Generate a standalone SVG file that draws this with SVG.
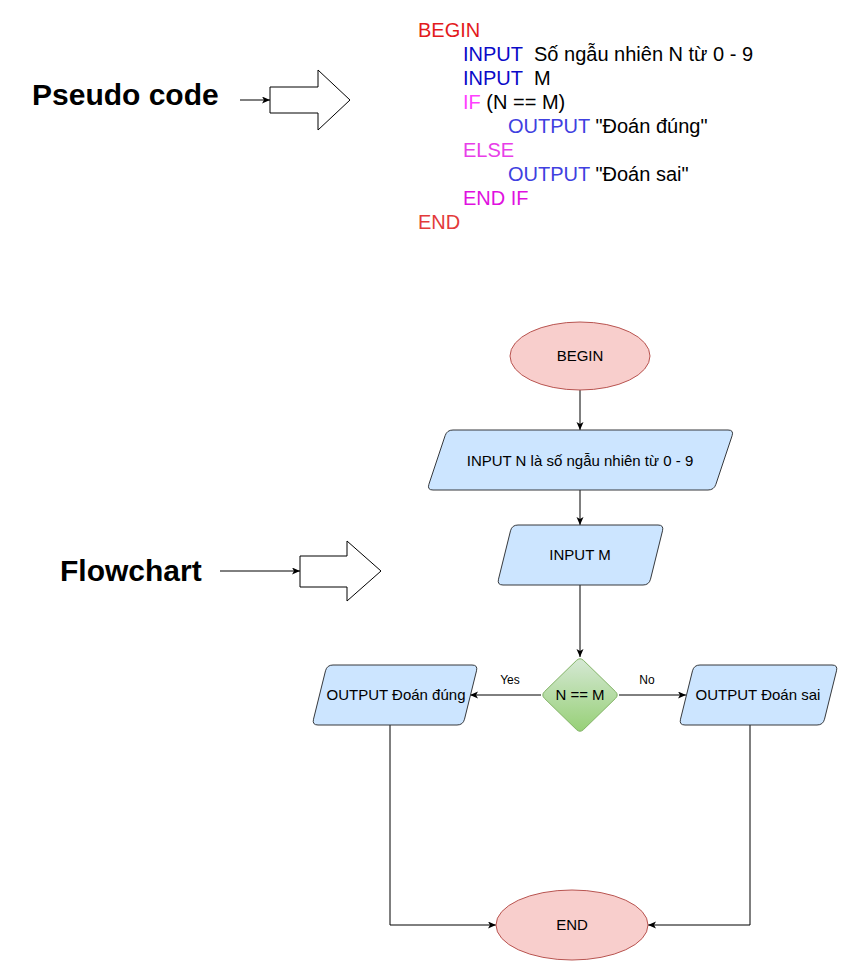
<svg xmlns="http://www.w3.org/2000/svg" width="851" height="971" viewBox="0 0 851 971">
<defs>
<style>
.code{font-family:"Liberation Sans",Arial,sans-serif;font-size:20px;}
.big{font-family:"Liberation Sans",Arial,sans-serif;font-size:30px;font-weight:bold;fill:#000;}
.lbl{font-family:"Liberation Sans",Arial,sans-serif;font-size:15px;fill:#000;text-anchor:middle;}
.small{font-family:"Liberation Sans",Arial,sans-serif;font-size:12px;fill:#000;text-anchor:middle;}
.term{fill:#f8cecc;stroke:#b85450;stroke-width:1;}
.io{fill:#cce5ff;stroke:#36393d;stroke-width:1;}
.dec{fill:url(#gGreen);stroke:#82b366;stroke-width:1;}
.edge{fill:none;stroke:#000;stroke-width:1;}
.block{fill:#fff;stroke:#000;stroke-width:1;}
</style>
<linearGradient id="gGreen" x1="0" y1="0" x2="0" y2="1">
<stop offset="0" stop-color="#d5e8d4"/>
<stop offset="1" stop-color="#97d077"/>
</linearGradient>
<marker id="arr" markerWidth="10" markerHeight="8" refX="8" refY="3.5" orient="auto" markerUnits="userSpaceOnUse">
<path d="M0,0 L8,3.5 L0,7 L2,3.5 Z" fill="#000"/>
</marker>
</defs>

<g id="pseudocode">
<text class="code" x="418" y="37" fill="#e31a1c">BEGIN</text>
<text class="code" x="463" y="61"><tspan fill="#0a0ac8">INPUT</tspan><tspan fill="#000" x="534">Số ngẫu nhiên N từ 0 - 9</tspan></text>
<text class="code" x="463" y="85"><tspan fill="#0a0ac8">INPUT</tspan><tspan fill="#000" x="534">M</tspan></text>
<text class="code" x="463" y="109"><tspan fill="#ff40ff">IF</tspan><tspan fill="#000"> (N == M)</tspan></text>
<text class="code" x="508" y="133"><tspan fill="#4040e0">OUTPUT</tspan><tspan fill="#000"> "Đoán đúng"</tspan></text>
<text class="code" x="463" y="157" fill="#e83ee8">ELSE</text>
<text class="code" x="508" y="181"><tspan fill="#4040e0">OUTPUT</tspan><tspan fill="#000"> "Đoán sai"</tspan></text>
<text class="code" x="463" y="205" fill="#e010e0">END IF</text>
<text class="code" x="418" y="229" fill="#e33a3a">END</text>
</g>

<g id="label-pseudo">
<text class="big" x="32" y="105">Pseudo code</text>
<polygon class="block" points="270,87 318,87 318,70 350,100 318,130 318,113 270,113"/>
</g>

<g id="label-flowchart">
<text class="big" x="60" y="581">Flowchart</text>
<polygon class="block" points="300,556 347,556 347,541 381,571 347,601 347,587 300,587"/>
</g>

<g id="connectors">
<line class="edge" x1="240" y1="100" x2="270" y2="100" marker-end="url(#arr)"/>
<line class="edge" x1="220" y1="571" x2="300" y2="571" marker-end="url(#arr)"/>
<line class="edge" x1="580" y1="390" x2="580" y2="430" marker-end="url(#arr)"/>
<line class="edge" x1="580" y1="490" x2="580" y2="525" marker-end="url(#arr)"/>
<line class="edge" x1="580" y1="585" x2="580" y2="657" marker-end="url(#arr)"/>
<line class="edge" x1="541" y1="695" x2="470" y2="695" marker-end="url(#arr)"/>
<line class="edge" x1="619" y1="695" x2="686" y2="695" marker-end="url(#arr)"/>
<polyline class="edge" points="390,725 390,925 496,925" marker-end="url(#arr)"/>
<polyline class="edge" points="750,725 750,925 648,925" marker-end="url(#arr)"/>
<text class="small" x="510" y="684">Yes</text>
<text class="small" x="647" y="684">No</text>
</g>

<g id="begin">
<ellipse class="term" cx="580" cy="356" rx="70" ry="34"/>
<text class="lbl" x="580" y="361">BEGIN</text>
</g>

<g id="inputN">
<path class="io" d="M 453,430 L 728,430 Q 734,430 732.1,435.7 L 715.9,484.3 Q 714,490 708,490 L 433,490 Q 427,490 428.9,484.3 L 445.1,435.7 Q 447,430 453,430 Z"/>
<text class="lbl" x="580" y="466">INPUT N là số ngẫu nhiên từ 0 - 9</text>
</g>

<g id="inputM">
<path class="io" d="M 518,525 L 658,525 Q 664,525 662.5,530.8 L 650.5,579.2 Q 649,585 643,585 L 503,585 Q 497,585 498.5,579.2 L 510.5,530.8 Q 512,525 518,525 Z"/>
<text class="lbl" x="580" y="560">INPUT M</text>
</g>

<g id="decision">
<path class="dec" d="M 576.4,660.5 Q 580,657 583.6,660.5 L 615.4,691.5 Q 619,695 615.4,698.5 L 583.6,729.5 Q 580,733 576.4,729.5 L 544.6,698.5 Q 541,695 544.6,691.5 Z"/>
<text class="lbl" x="580" y="700">N == M</text>
</g>

<g id="outYes">
<path class="io" d="M 333,665 L 472,665 Q 478,665 476.5,670.8 L 464.5,719.2 Q 463,725 457,725 L 318,725 Q 312,725 313.5,719.2 L 325.5,670.8 Q 327,665 333,665 Z"/>
<text class="lbl" x="396" y="700">OUTPUT Đoán đúng</text>
</g>

<g id="outNo">
<path class="io" d="M 700,665 L 832,665 Q 838,665 836.5,670.8 L 824.5,719.2 Q 823,725 817,725 L 685,725 Q 679,725 680.5,719.2 L 692.5,670.8 Q 694,665 700,665 Z"/>
<text class="lbl" x="758" y="700">OUTPUT Đoán sai</text>
</g>

<g id="end">
<ellipse class="term" cx="572" cy="925" rx="76" ry="35"/>
<text class="lbl" x="572" y="930">END</text>
</g>
</svg>
